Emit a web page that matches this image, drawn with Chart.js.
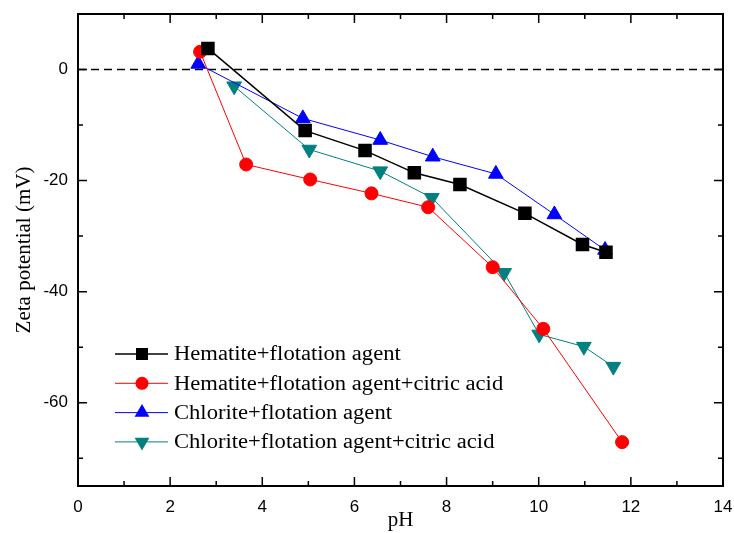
<!DOCTYPE html>
<html>
<head>
<meta charset="utf-8">
<script src="https://cdn.jsdelivr.net/npm/chart.js@4.4.1/dist/chart.umd.min.js"></script>
<style>
  html, body { margin: 0; padding: 0; background: #fff; }
  #wrap { width: 734px; height: 533px; }
</style>
</head>
<body>
<div id="wrap"><canvas id="zetaChart" width="734" height="533"></canvas></div>
<script>
// pH values
const hemPH = [2.82, 4.93, 6.23, 7.30, 8.29, 9.70, 10.95, 11.46];
const hemZeta = [3.8, -11.0, -14.6, -18.6, -20.7, -25.9, -31.5, -32.9];

const hemCitPH = [2.65, 3.65, 5.04, 6.37, 7.60, 9.00, 10.10, 11.81];
const hemCitZeta = [3.2, -17.1, -19.8, -22.3, -24.8, -35.6, -46.7, -67.1];

const chlPH = [2.61, 4.88, 6.56, 7.70, 9.07, 10.34, 11.44];
const chlZeta = [1.0, -8.8, -12.7, -15.7, -18.8, -26.1, -32.5];

const chlCitPH = [3.39, 5.02, 6.56, 7.68, 9.25, 10.01, 10.98, 11.62];
const chlCitZeta = [-3.0, -14.4, -18.3, -23.1, -36.6, -47.7, -49.9, -53.5];

const xTicks = [0, 2, 4, 6, 8, 10, 12, 14];
const yTicks = [-60, -40, -20, 0];

const seriesNames = [
    "Hematite+flotation agent",
    "Hematite+flotation agent+citric acid",
    "Chlorite+flotation agent",
    "Chlorite+flotation agent+citric acid"
];

function toPoints(xs, ys) {
    return xs.map((x, i) => ({ x: x, y: ys[i] }));
}

function noScalePadding(s) {
    s.paddingTop = 0;
    s.paddingBottom = 0;
    s.paddingLeft = 0;
    s.paddingRight = 0;
}

// frame, inward ticks, zero line and the legend inside the plot
const framePlugin = {
    id: "frame",
    beforeDatasetsDraw(chart) {
        const ctx = chart.ctx;
        const a = chart.chartArea;
        const y0 = chart.scales.y.getPixelForValue(0);
        ctx.save();
        ctx.strokeStyle = "#000";
        ctx.lineWidth = 1.5;
        ctx.setLineDash([8, 5]);
        ctx.beginPath();
        ctx.moveTo(a.left, y0);
        ctx.lineTo(a.right, y0);
        ctx.stroke();
        ctx.restore();
    },
    afterDraw(chart) {
        const ctx = chart.ctx;
        const a = chart.chartArea;
        const xs = chart.scales.x;
        const ys = chart.scales.y;
        ctx.save();
        ctx.strokeStyle = "#000";
        ctx.lineWidth = 2;
        ctx.strokeRect(a.left, a.top, a.right - a.left, a.bottom - a.top);
        ctx.lineWidth = 1.5;
        ctx.beginPath();
        for (let v = 0; v <= 14; v++) {
            const len = v % 2 === 0 ? 9 : 5;
            const px = xs.getPixelForValue(v);
            ctx.moveTo(px, a.bottom); ctx.lineTo(px, a.bottom - len);
            ctx.moveTo(px, a.top); ctx.lineTo(px, a.top + len);
        }
        for (let v = -70; v <= 10; v += 10) {
            const len = v % 20 === 0 ? 9 : 5;
            const py = ys.getPixelForValue(v);
            ctx.moveTo(a.left, py); ctx.lineTo(a.left + len, py);
            ctx.moveTo(a.right, py); ctx.lineTo(a.right - len, py);
        }
        ctx.stroke();

        // legend (text a bit wider than tall, like the original)
        const lx = 115, ly = 354, gap = 29.3;
        ctx.font = "20px 'Liberation Serif', 'Times New Roman', serif";
        ctx.textBaseline = "middle";
        chart.data.datasets.forEach((ds, i) => {
            const y = ly + i * gap;
            ctx.strokeStyle = ds.borderColor;
            ctx.lineWidth = ds.borderWidth;
            ctx.beginPath();
            ctx.moveTo(lx, y);
            ctx.lineTo(lx + 53, y);
            ctx.stroke();
            ctx.fillStyle = ds.pointBackgroundColor;
            ctx.strokeStyle = ds.pointBackgroundColor;
            Chart.helpers.drawPoint(ctx, {
                pointStyle: ds.pointStyle,
                radius: ds.pointRadius,
                rotation: ds.pointRotation || 0,
                borderWidth: 0
            }, lx + 27, y);
            ctx.save();
            ctx.translate(174, y + 1);
            ctx.scale(1.13, 1);
            ctx.fillStyle = "#000";
            ctx.fillText(ds.label, 0, 0);
            ctx.restore();
        });
        ctx.restore();
    }
};

const ctx = document.getElementById("zetaChart").getContext("2d");
new Chart(ctx, {
    type: "line",
    data: {
        datasets: [{
            label: seriesNames[0],
            data: toPoints(hemPH, hemZeta),
            borderColor: "#000000",
            borderWidth: 1.5,
            pointBackgroundColor: "#000000",
            pointStyle: "rect",
            pointRadius: 8.5
        }, {
            label: seriesNames[1],
            data: toPoints(hemCitPH, hemCitZeta),
            borderColor: "#ff0000",
            borderWidth: 1,
            pointBackgroundColor: "#ff0000",
            pointStyle: "circle",
            pointRadius: 6.5
        }, {
            label: seriesNames[2],
            data: toPoints(chlPH, chlZeta),
            borderColor: "#0000ff",
            borderWidth: 1,
            pointBackgroundColor: "#0000ff",
            pointStyle: "triangle",
            pointRadius: 8.5
        }, {
            label: seriesNames[3],
            data: toPoints(chlCitPH, chlCitZeta),
            borderColor: "#008080",
            borderWidth: 1,
            pointBackgroundColor: "#008080",
            pointStyle: "triangle",
            pointRotation: 180,
            pointRadius: 8.5
        }]
    },
    options: {
        responsive: false,
        animation: false,
        layout: { padding: { top: 14, right: 11, left: 12, bottom: 0 } },
        elements: {
            line: { tension: 0, fill: false },
            point: { borderWidth: 0, hoverRadius: 8 }
        },
        plugins: {
            legend: { display: false },
            tooltip: { enabled: false }
        },
        scales: {
            x: {
                type: "linear",
                min: 0,
                max: 14,
                afterBuildTicks: (s) => { s.ticks = xTicks.map(v => ({ value: v })); },
                afterFit: (s) => { s.height = 47; noScalePadding(s); },
                grid: { display: false, drawTicks: false },
                border: { display: false },
                ticks: {
                    color: "#000",
                    padding: 11,
                    font: { family: "'Liberation Sans', Arial, sans-serif", size: 17 }
                },
                title: {
                    display: true,
                    text: "pH",
                    color: "#000",
                    padding: { top: -11, bottom: 0 },
                    font: { family: "'Liberation Serif', 'Times New Roman', serif", size: 21 }
                }
            },
            y: {
                type: "linear",
                min: -75,
                max: 10,
                afterBuildTicks: (s) => { s.ticks = yTicks.map(v => ({ value: v })); },
                afterFit: (s) => { s.width = 66; noScalePadding(s); },
                grid: { display: false, drawTicks: false },
                border: { display: false },
                ticks: {
                    color: "#000",
                    padding: 10,
                    font: { family: "'Liberation Sans', Arial, sans-serif", size: 17 }
                },
                title: {
                    display: true,
                    text: "Zeta potential (mV)",
                    color: "#000",
                    padding: { top: 0, bottom: 0 },
                    font: { family: "'Liberation Serif', 'Times New Roman', serif", size: 21 }
                }
            }
        }
    },
    plugins: [framePlugin]
});
</script>
</body>
</html>
